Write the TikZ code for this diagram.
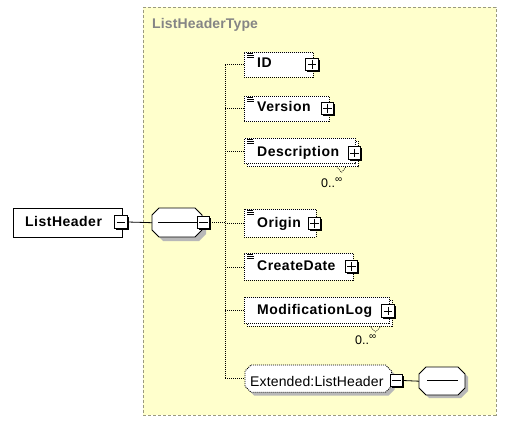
\documentclass[tikz,border=0pt]{standalone}
\usepackage{fontspec}
\setmainfont{Liberation Sans}
\newfontfamily\lblfont[LetterSpace=3.5]{Liberation Sans}
\newfontfamily\regfont[LetterSpace=1]{Liberation Sans}
\usetikzlibrary{shadows}
\definecolor{typebg}{HTML}{FFFFCC}
\definecolor{typeborder}{HTML}{9A9A80}
\definecolor{typetitle}{HTML}{858585}
\definecolor{shade}{HTML}{B8B8B8}
\newcommand\octo[6][]{\path[#1] (#2+#6,#3) -- (#4-#6,#3) -- (#4,#3+#6) -- (#4,#5-#6) -- (#4-#6,#5) -- (#2+#6,#5) -- (#2,#5-#6) -- (#2,#3+#6) -- cycle;}
\newcommand\docicon[1]{%
  \draw[line width=0.6pt] ([xshift=3pt,yshift=-1.3pt]#1.north west) -- ++(6pt,0)
    ([xshift=3pt,yshift=-3.3pt]#1.north west) -- ++(7pt,0)
    ([xshift=3pt,yshift=-5.3pt]#1.north west) -- ++(7pt,0);}
\newcommand\plussign[1]{%
  \draw[line width=0.8pt] ([xshift=2.5pt]#1.west) -- ([xshift=-2.5pt]#1.east)
    ([yshift=-2.5pt]#1.north) -- ([yshift=2.5pt]#1.south);}
\newcommand\minussign[1]{%
  \draw[line width=0.8pt] ([xshift=2.5pt]#1.west) -- ([xshift=-2.5pt]#1.east);}
\tikzset{
  dotln/.style={line width=0.8pt, dash pattern=on 1pt off 1pt},
  elem/.style={draw, dotln, fill=white, anchor=north west, inner sep=0pt},
  pm/.style={draw, line width=0.8pt, fill=white, minimum size=12.5pt, inner sep=0pt,
    general shadow={fill=black, shadow xshift=1.6pt, shadow yshift=-1.6pt}},
  lbl/.style={anchor=base west, inner sep=0pt, font=\fontsize{14}{16}\selectfont\lblfont\bfseries},
  reg/.style={anchor=base west, inner sep=0pt, font=\fontsize{14}{16}\selectfont\regfont},
  mult/.style={anchor=base west, inner sep=0pt, font=\fontsize{12.5}{14}\selectfont},
  anchorbox/.style={draw=none, inner sep=0pt, anchor=north west},
  solidln/.style={line width=0.8pt}
}
\begin{document}
\begin{tikzpicture}[x=1pt,y=-1pt]
\useasboundingbox (0,0) rectangle (508,422);
% type container
\node[anchorbox, draw=typeborder, fill=typebg, line width=0.8pt, dash pattern=on 3pt off 2pt,
  minimum width=352.5pt, minimum height=407.5pt] (tb) at (143,7) {};
\node[anchor=base west, inner sep=0pt, text=typetitle, font=\fontsize{14}{16}\selectfont\regfont\bfseries] (tbt) at (152,29) {ListHeaderType};

% root element
\node[anchorbox, draw, fill=white, line width=0.8pt, minimum width=109pt, minimum height=29pt] (lh) at (13,208) {};
\node[lbl] (lht) at (25,226) {ListHeader};
\node[pm] (lhm) at (121,222) {};
\minussign{lhm}

% sequence compositor
\octo[fill=shade]{156}{212}{206}{241}{7}
\octo[draw, fill=white, line width=0.8pt]{152}{208}{202}{237}{7}
\node[anchorbox, minimum width=50pt, minimum height=29pt] (seq) at (152,208) {};
\draw[solidln] (158,222.5) -- (197,222.5);
\node[pm] (seqm) at (203.5,222.5) {};
\minussign{seqm}
\draw[solidln] (lhm.east) -- (seq.west);

% children
\node[elem, minimum width=69pt, minimum height=25pt] (id) at (244,52) {};
\docicon{id}
\node[lbl] (idt) at (257,68) {ID};
\node[pm] (idp) at (312,64.5) {};
\plussign{idp}

\node[elem, minimum width=84.5pt, minimum height=25.5pt] (ver) at (244,95.7) {};
\docicon{ver}
\node[lbl] (vert) at (257,112) {Version};
\node[pm] (verp) at (327.5,108.5) {};
\plussign{verp}

\node[elem, minimum width=111pt, minimum height=25.3pt] (descb) at (247,141) {};
\node[elem, minimum width=111pt, minimum height=25.3pt] (desc) at (244,138) {};
\docicon{desc}
\node[lbl] (desct) at (257,157) {Description};
\node[pm] (descp) at (354.5,153) {};
\plussign{descp}
\draw[dotln, line width=0.6pt] (336.5,166.3) -- (341.5,172.5) -- (346.5,166.3);
\node[mult] (descm) at (321,187.3) {0..\raisebox{5pt}{\fontsize{10}{10}\selectfont ∞}};

\node[elem, minimum width=72pt, minimum height=28pt] (ori) at (244,209) {};
\docicon{ori}
\node[lbl] (orit) at (257,227) {Origin};
\node[pm] (orip) at (314.5,223.5) {};
\plussign{orip}

\node[elem, minimum width=109pt, minimum height=27pt] (cd) at (244,253) {};
\docicon{cd}
\node[lbl] (cdt) at (257,270) {CreateDate};
\node[pm] (cdp) at (351.5,266.5) {};
\plussign{cdp}

\node[elem, minimum width=145pt, minimum height=26pt] (mlb) at (247,300) {};
\node[elem, minimum width=145pt, minimum height=26pt] (ml) at (244,297) {};
\node[lbl] (mlt) at (257,314) {ModificationLog};
\node[pm] (mlp) at (388,311) {};
\plussign{mlp}
\draw[dotln, line width=0.6pt] (369.5,326) -- (375.5,332) -- (381.5,326);
\node[mult] (mlm) at (355,344.3) {0..\raisebox{5pt}{\fontsize{10}{10}\selectfont ∞}};

% any element
\octo[fill=shade]{248}{368}{394.5}{395.5}{6}
\octo[dotln, draw, fill=white]{245}{365}{391.5}{392.3}{6}
\node[anchorbox, minimum width=146.5pt, minimum height=27.3pt] (ext) at (245,365) {};
\node[reg] (extt) at (250,386) {Extended:ListHeader};
\node[pm] (extm) at (396.5,380.5) {};
\minussign{extm}

\octo[fill=shade]{422}{370}{468}{398}{7}
\octo[draw, fill=white, line width=0.8pt]{419}{367}{465}{395}{7}
\node[anchorbox, minimum width=46pt, minimum height=28pt] (anyseq) at (419,367) {};
\draw[solidln] (427,380.7) -- (458,380.7);
\draw[solidln] (extm.east) -- (anyseq.west);

% bus
\coordinate (bus) at (225,0);
\draw[dotln] (seqm.east) -- (bus |- seqm.east);
\draw[dotln] (bus |- id.west) -- (bus |- ext.west);
\foreach \n in {id,ver,desc,ori,cd,ml,ext}{
  \draw[dotln] (bus |- \n.west) -- (\n.west);
}
\end{tikzpicture}
\end{document}
